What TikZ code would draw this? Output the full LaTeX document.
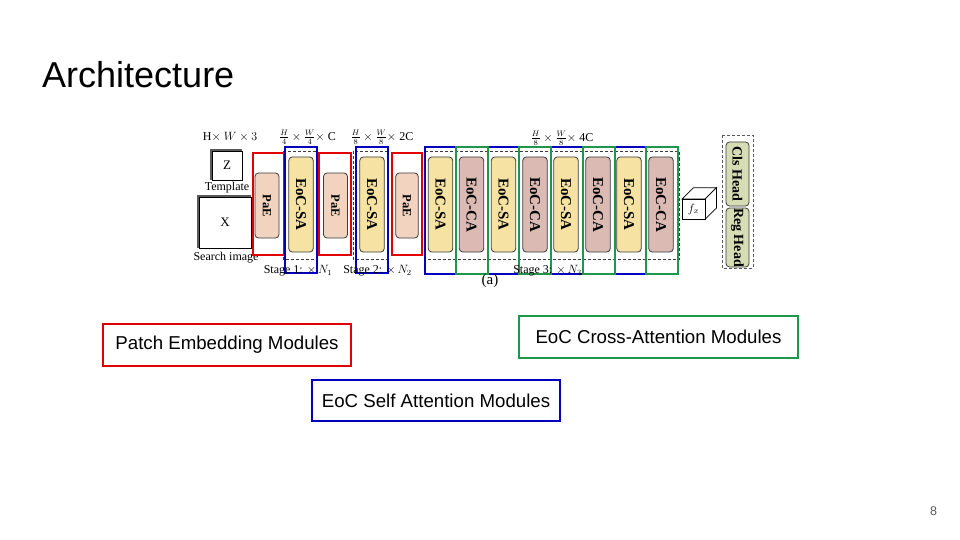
\documentclass[tikz,border=0pt]{standalone}
\usepackage{fontspec}
\setmainfont{Liberation Serif}
\newfontfamily\arialf{Liberation Sans}
\definecolor{safill}{RGB}{246,227,164}
\definecolor{cafill}{RGB}{219,186,180}
\definecolor{paefill}{RGB}{241,211,191}
\definecolor{headfill}{RGB}{214,221,181}
\definecolor{modline}{RGB}{60,60,60}
\definecolor{rred}{RGB}{224,0,0}
\definecolor{bblue}{RGB}{0,0,190}
\definecolor{ggreen}{RGB}{30,150,75}
\definecolor{pgray}{RGB}{90,90,90}
\begin{document}
\begin{tikzpicture}[x=1pt,y=-1pt,
  mod/.style={draw=modline, line width=0.8pt, rounded corners=3.5pt, rotate=-90, inner sep=0pt},
  sa/.style={mod, fill=safill, minimum width=95pt, minimum height=24.5pt, font=\bfseries\fontsize{15}{15}\selectfont},
  ca/.style={mod, fill=cafill, minimum width=95pt, minimum height=24.5pt, font=\bfseries\fontsize{15}{15}\selectfont},
  pae/.style={mod, fill=paefill, minimum width=65pt, minimum height=24pt, font=\bfseries\fontsize{12.5}{12.5}\selectfont},
  head/.style={mod, fill=headfill, minimum height=23pt, font=\bfseries\fontsize{14}{14}\selectfont},
  redr/.style={draw=rred, line width=2pt},
  bluer/.style={draw=bblue, line width=2pt},
  greenr/.style={draw=ggreen, line width=2pt},
  stagebox/.style={draw=modline, dashed, line width=0.8pt, dash pattern=on 3pt off 2pt},
  smalltxt/.style={font=\fontsize{12}{12}\selectfont, inner sep=0pt},
  legend/.style={line width=1.5pt, inner sep=0pt, font=\arialf\fontsize{18.67}{20}\selectfont}
]
\useasboundingbox (0,0) rectangle (960,540);
\fill[white] (0,0) rectangle (960,540);

% title and page number
\node[anchor=base west, inner sep=0pt, font=\arialf\fontsize{36}{36}\selectfont] (title) at (42,87.5) {Architecture};
\node[inner sep=0pt, text=pgray, font=\arialf\fontsize{12.5}{12.5}\selectfont] (pnum) at (933.5,511) {8};

% inputs
\draw[pgray, line width=2pt] (211,180) -- (211,150) -- (242,150);
\node[draw=black, fill=white, line width=0.6pt, minimum width=30pt, minimum height=29pt, inner sep=0pt, font=\fontsize{13}{13}\selectfont] (z) at (227,165.5) {Z};
\draw[pgray, line width=2pt] (198,248) -- (198,196) -- (251,196);
\node[draw=black, fill=white, line width=0.6pt, minimum width=52pt, minimum height=51pt, inner sep=0pt, font=\fontsize{13}{13}\selectfont] (x) at (225,222.5) {X};
\node[smalltxt] (tmpl) at (227,187.5) {Template};
\node[smalltxt] (srch) at (226,257.5) {Search image};
\node[smalltxt] (dim0) at (230,137) {H$\times$ $W\times 3$};
\node[smalltxt] (dim1) at (307.5,137) {$\frac{H}{4}\times\frac{W}{4}\times$ C};
\node[smalltxt] (dim2) at (382,137) {$\frac{H}{8}\times\frac{W}{8}\times$ 2C};
\node[smalltxt] (dim3) at (562,138) {$\frac{H}{8}\times\frac{W}{8}\times$ 4C};

% stage dashed boxes
\draw[stagebox] (283,151.5) rectangle (317,259);
\draw[stagebox] (353,151.5) rectangle (388,259);
\draw[stagebox] (425,151.5) rectangle (679,259);

% colored group rectangles
\draw[redr] (253,153) rectangle (284,255);
\draw[redr] (319,153) rectangle (351,255);
\draw[redr] (392,153) rectangle (422,255);
\draw[bluer] (285,147.5) rectangle (317,273);
\draw[bluer] (356,147.5) rectangle (388,273);
\foreach \a/\b in {424.5/456, 488/519, 551/582.5, 614.5/646}
  \draw[bluer] (\a,147.5) rectangle (\b,274);
\foreach \a/\b in {456/488, 519/551, 582.5/614.5, 646/678}
  \draw[greenr] (\a,147.5) rectangle (\b,274);

% modules
\node[pae] (pae1) at (267,205.5) {PaE};
\node[sa] (sa1) at (301,204.5) {EoC-SA};
\node[pae] (pae2) at (335.5,205.5) {PaE};
\node[sa] (sa2) at (372,204.5) {EoC-SA};
\node[pae, minimum height=22.5pt] (pae3) at (407,205.5) {PaE};
\node[sa] (sa3) at (440.5,204.5) {EoC-SA};
\node[ca] (ca3) at (471.5,204.5) {EoC-CA};
\node[sa] (sa4) at (503.5,204.5) {EoC-SA};
\node[ca] (ca4) at (535,204.5) {EoC-CA};
\node[sa] (sa5) at (566,204.5) {EoC-SA};
\node[ca] (ca5) at (598,204.5) {EoC-CA};
\node[sa] (sa6) at (629,204.5) {EoC-SA};
\node[ca] (ca6) at (661,204.5) {EoC-CA};

% stage labels
\node[smalltxt] (st1) at (298,270.5) {Stage 1: $\times\, N_1$};
\node[smalltxt] (st2) at (377.5,270.5) {Stage 2: $\times\, N_2$};
\node[smalltxt] (st3) at (547.5,270.5) {Stage 3: $\times\, N_3$};
\node[inner sep=0pt, font=\fontsize{15}{15}\selectfont] (lbla) at (490,281) {(a)};

% feature cube
\draw[black, line width=0.7pt, fill=white] (682,199) -- (693.5,187.7) -- (716.5,187.7) -- (705,199) -- cycle;
\draw[black, line width=0.7pt, fill=white] (705,199) -- (716.5,187.7) -- (716.5,208) -- (705,219.3) -- cycle;
\node[draw=black, fill=white, line width=0.7pt, minimum width=23pt, minimum height=20.3pt, inner sep=0pt, font=\fontsize{12}{12}\selectfont] (fx) at (693.5,209.15) {$f_x$};

% heads
\draw[stagebox, draw=pgray] (722,135) rectangle (753,268);
\node[head, minimum width=64pt] (cls) at (737.5,174) {Cls Head};
\node[head, minimum width=59pt] (reg) at (737.5,237.5) {Reg Head};

% legend boxes
\node[legend, draw=rred, minimum width=248pt, minimum height=42pt] (pem) at (227,345) {Patch Embedding Modules};
\node[legend, draw=ggreen, minimum width=279pt, minimum height=42pt] (cam) at (658.5,337) {EoC Cross-Attention Modules};
\node[legend, draw=bblue, minimum width=248pt, minimum height=41pt] (sam) at (436,400.5) {EoC Self Attention Modules};
\end{tikzpicture}
\end{document}
